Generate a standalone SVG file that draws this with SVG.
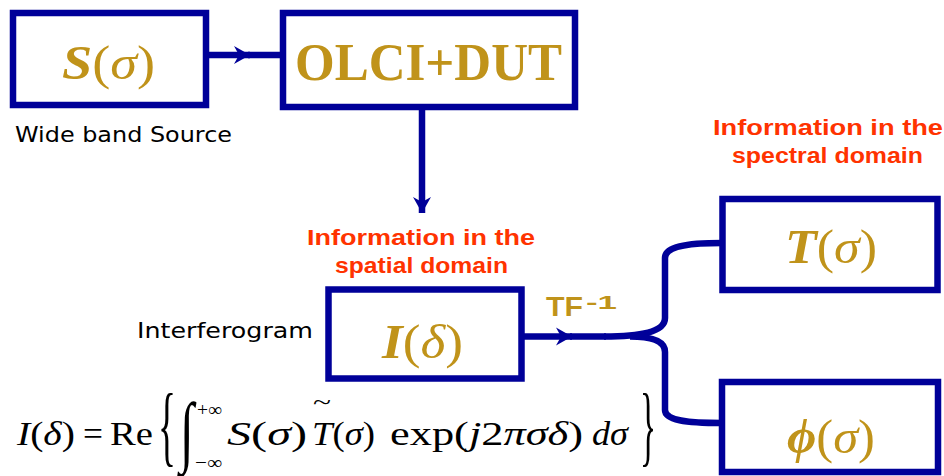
<svg xmlns="http://www.w3.org/2000/svg" width="944" height="476" viewBox="0 0 944 476">
<style>
.box{fill:#fff;stroke:#000099;stroke-width:6.5}
.conn{fill:none;stroke:#000099;stroke-width:6.5}
.math{font-family:"Liberation Serif","Times New Roman",serif;fill:#C0931A;font-size:48px}
.it{font-style:italic}
.bd{font-weight:bold}
.lbl{font-family:"DejaVu Sans","Liberation Sans",sans-serif;font-size:22px;fill:#000}
.red{font-family:"Liberation Sans",Arial,sans-serif;font-weight:bold;font-size:22px;fill:#FF3300}
.tf{font-family:"Liberation Sans",Arial,sans-serif;font-weight:bold;fill:#C0931A}
.eq{font-family:"Liberation Serif","Times New Roman",serif;font-size:34px;fill:#000}
</style>
<defs>
<marker id="ah" markerUnits="userSpaceOnUse" viewBox="0 0 16 20" refX="16" refY="10" markerWidth="16" markerHeight="20" orient="auto">
<path d="M0,1 L16,10 L0,19 L5,10 Z" fill="#000099"/>
</marker>
</defs>

<g id="connectors">
<path class="conn" d="M206,55 H250" marker-end="url(#ah)"/>
<path class="conn" d="M248,55 H283"/>
<path class="conn" d="M422,107 V213" marker-end="url(#ah)"/>
<path class="conn" d="M521,336.5 H572" marker-end="url(#ah)"/>
<path class="conn" d="M570,336.5 H606"/>
<path class="conn" d="M604,336.5 C640,336.5 665,332 665,318 V258 C665,247 685,243 722,243"/>
<path class="conn" d="M630,336.5 C652,336.5 665,341 665,352 V410 C665,420 685,423 722,423"/>
</g>

<g id="node-source">
<rect class="box" x="13" y="13" width="193" height="92"/>
<text class="math" x="62" y="79" textLength="93" lengthAdjust="spacingAndGlyphs"><tspan class="it bd">S</tspan>(<tspan class="it">σ</tspan>)</text>
<text class="lbl" x="15" y="142" textLength="217" lengthAdjust="spacingAndGlyphs">Wide band Source</text>
</g>

<g id="node-olci">
<rect class="box" x="283" y="13" width="292" height="94"/>
<text class="math bd" x="295" y="80" textLength="267" lengthAdjust="spacingAndGlyphs" style="font-size:53px">OLCI+DUT</text>
</g>

<g id="node-interferogram">
<text class="red" x="307" y="245" textLength="228" lengthAdjust="spacingAndGlyphs">Information in the</text>
<text class="red" x="335" y="273" textLength="173" lengthAdjust="spacingAndGlyphs">spatial domain</text>
<rect class="box" x="328.5" y="289.5" width="193" height="89"/>
<text class="math" x="382" y="358" textLength="81" lengthAdjust="spacingAndGlyphs"><tspan class="it bd">I</tspan>(<tspan class="it">δ</tspan>)</text>
<text class="lbl" x="137" y="338" textLength="176" lengthAdjust="spacingAndGlyphs">Interferogram</text>
</g>

<g id="label-tf">
<text class="tf" x="546" y="316" style="font-size:28px" textLength="37" lengthAdjust="spacingAndGlyphs">TF</text>
<text class="tf" x="586" y="309" style="font-size:19px" textLength="31" lengthAdjust="spacingAndGlyphs">-1</text>
</g>

<g id="node-T">
<text class="red" x="713" y="135" textLength="230" lengthAdjust="spacingAndGlyphs">Information in the</text>
<text class="red" x="732" y="163" textLength="191" lengthAdjust="spacingAndGlyphs">spectral domain</text>
<rect class="box" x="722.5" y="199" width="215" height="91"/>
<text class="math" x="785" y="263" textLength="92" lengthAdjust="spacingAndGlyphs"><tspan class="it bd">T</tspan>(<tspan class="it">σ</tspan>)</text>
</g>

<g id="node-phi">
<rect class="box" x="722" y="382" width="216" height="90"/>
<text class="math" x="787" y="453" textLength="88" lengthAdjust="spacingAndGlyphs"><tspan class="it bd">ϕ</tspan>(<tspan class="it">σ</tspan>)</text>
</g>

<g id="equation">
<text class="eq" x="17" y="445" textLength="58" lengthAdjust="spacingAndGlyphs"><tspan class="it">I</tspan>(<tspan class="it">δ</tspan>)</text>
<text class="eq" x="83" y="445" textLength="20" lengthAdjust="spacingAndGlyphs">=</text>
<text class="eq" x="110" y="445" textLength="43" lengthAdjust="spacingAndGlyphs">Re</text>
<text class="eq" transform="translate(158,455) scale(1,2.6)" x="0" y="0" textLength="18" lengthAdjust="spacingAndGlyphs">{</text>
<text class="eq" transform="translate(180,457) scale(1,2.3)" x="0" y="0" textLength="14" lengthAdjust="spacingAndGlyphs">∫</text>
<text class="eq" x="197" y="416" style="font-size:19px" textLength="25" lengthAdjust="spacingAndGlyphs">+∞</text>
<text class="eq" x="195" y="469" style="font-size:19px" textLength="27" lengthAdjust="spacingAndGlyphs">−∞</text>
<text class="eq" x="227" y="445" textLength="80" lengthAdjust="spacingAndGlyphs"><tspan class="it">S</tspan>(<tspan class="it">σ</tspan>)</text>
<text class="eq" x="313" y="409" style="font-size:22px" textLength="18" lengthAdjust="spacingAndGlyphs">~</text>
<text class="eq" x="312" y="445" textLength="63" lengthAdjust="spacingAndGlyphs"><tspan class="it">T</tspan>(<tspan class="it">σ</tspan>)</text>
<text class="eq" x="390" y="445" textLength="193" lengthAdjust="spacingAndGlyphs">exp(<tspan class="it">j</tspan>2<tspan class="it">πσδ</tspan>)</text>
<text class="eq" x="592" y="445" textLength="36" lengthAdjust="spacingAndGlyphs"><tspan class="it">dσ</tspan></text>
<text class="eq" transform="translate(640,455) scale(1,2.6)" x="0" y="0" textLength="16" lengthAdjust="spacingAndGlyphs">}</text>
</g>
</svg>
